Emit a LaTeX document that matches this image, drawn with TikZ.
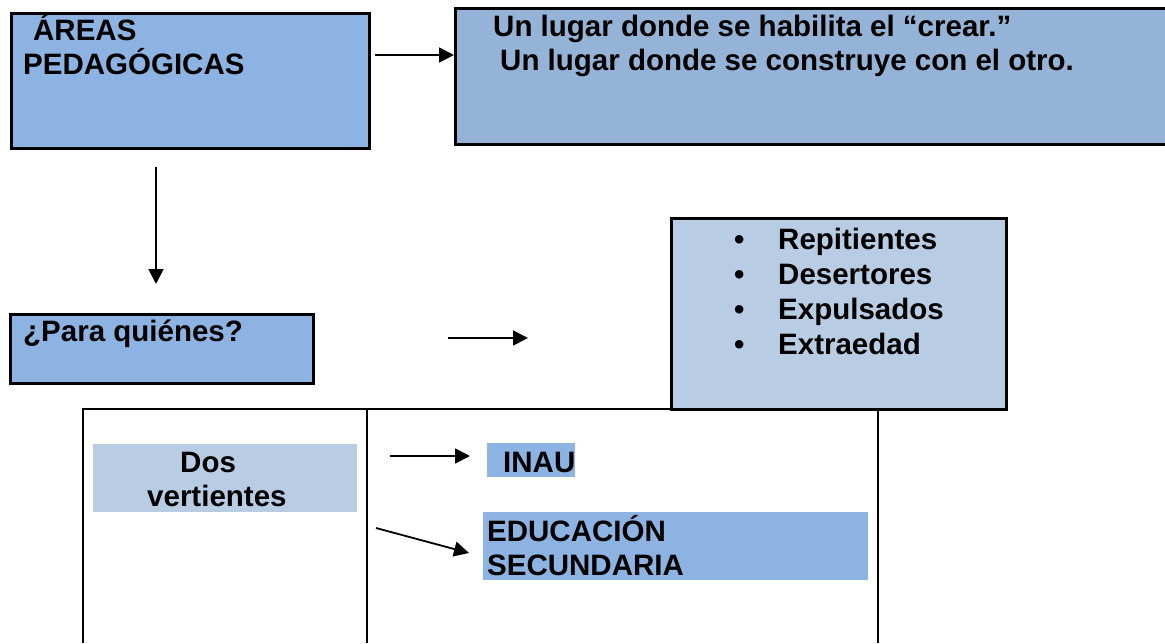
\documentclass[tikz,border=0pt]{standalone}
\usepackage{fontspec}
\setmainfont{Liberation Sans}
\usetikzlibrary{arrows.meta}
\definecolor{azulfuerte}{HTML}{8DB3E2}
\definecolor{azulgris}{HTML}{95B3D7}
\definecolor{azulclaro}{HTML}{B8CCE4}
\tikzset{
  caja/.style={draw, line width=2.6pt, inner sep=0pt, anchor=north west},
  franja/.style={inner sep=0pt, anchor=north west},
  texto/.style={inner sep=0pt, anchor=base west, font=\fontsize{29.5}{34}\selectfont\bfseries},
  flecha/.style={-{Triangle[length=15pt,width=15pt]}, line width=1.8pt},
}
\begin{document}
\begin{tikzpicture}[x=1pt,y=-1pt]
  \useasboundingbox (0,0) rectangle (1165,643);
  \clip (0,0) rectangle (1165,643);
  \node[caja, fill=azulfuerte, minimum width=358pt, minimum height=135pt] (areas) at (10,12) {};
  \node[caja, fill=azulgris, minimum width=730pt, minimum height=136pt] (lugar) at (454,7) {};
  \node[caja, fill=azulfuerte, minimum width=303pt, minimum height=69pt] (quienes) at (9,313) {};
  \node[caja, fill=azulclaro, minimum width=335pt, minimum height=191pt] (lista) at (670,217) {};
  \begin{scope}[line width=2.6pt]
    \draw (83,643) -- (83,409) -- (878,409) -- (878,643);
    \draw (367,409) -- (367,643);
  \end{scope}
  \node[franja, fill=azulclaro, minimum width=264pt, minimum height=68pt] (vertientes) at (93,444) {};
  \node[franja, fill=azulfuerte, minimum width=88pt, minimum height=34pt] (inau) at (487,443) {};
  \node[franja, fill=azulfuerte, minimum width=385pt, minimum height=68pt] (secundaria) at (483,512) {};
  \draw
    (33,40) node[texto] (t-areas1){ÁREAS}
    (23,74) node[texto] (t-areas2){PEDAGÓGICAS}
    (493,36) node[texto] (t-lugar1){Un lugar donde se habilita el “crear.”}
    (500,70) node[texto] (t-lugar2){Un lugar donde se construye con el otro.}
    (23,341) node[texto] (t-quienes){¿Para quiénes?}
    (180,472) node[texto] (t-dos1){Dos}
    (147,506) node[texto] (t-dos2){vertientes}
    (503,472) node[texto] (t-inau){INAU}
    (487,541) node[texto] (t-sec1){EDUCACIÓN}
    (487,575) node[texto] (t-sec2){SECUNDARIA};
  \foreach \item [count=\i] in {Repitientes,Desertores,Expulsados,Extraedad}
  {
    \node[texto] (bala\i) at (734,{249+35*(\i-1)}) {\textbullet};
    \node[texto] (item\i) at (778,{249+35*(\i-1)}) {\item};
  }
  \coordinate (a1) at (375,55);
  \coordinate (a2) at (156,167);
  \coordinate (b2) at (156,284);
  \coordinate (a3) at (448,338);
  \coordinate (b3) at (528,338);
  \coordinate (a4) at (390,456);
  \coordinate (b4) at (470,456);
  \coordinate (a5) at (376,528);
  \coordinate (b5) at (469,553);
  \begin{scope}[flecha]
    \draw (a1) to (a1 -| lugar.west);
    \draw (a2) to (b2);
    \draw (a3) to (b3);
    \draw (a4) to (b4);
    \draw (a5) to (b5);
  \end{scope}
\end{tikzpicture}
\end{document}
